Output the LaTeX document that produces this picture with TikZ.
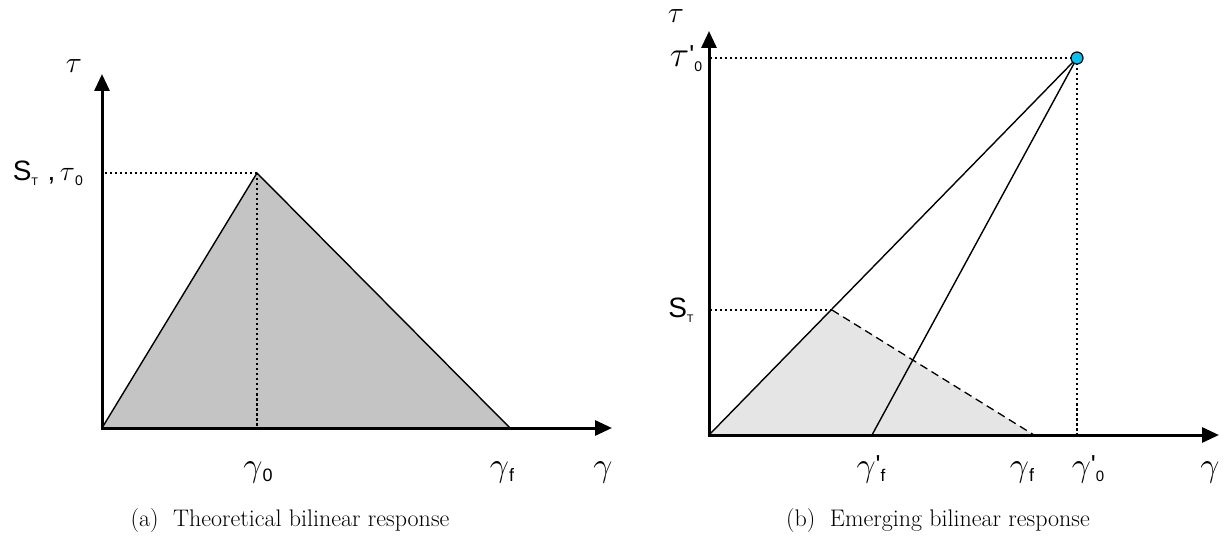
\RequirePackage{fix-cm}
\documentclass[tikz,border=0pt]{standalone}
\usepackage{fontspec}
\newfontfamily\arial{Liberation Sans}
\usetikzlibrary{arrows.meta}
\newcommand{\lsub}[2][18]{\raisebox{-5pt}{\arial\fontsize{#1}{#1}\selectfont #2}}
\newcommand{\lprime}{{\arial\fontsize{26}{26}\selectfont\raisebox{3pt}{'}}}
\begin{document}
\begin{tikzpicture}[x=1pt,y=-1pt,
  axis/.style={line width=3pt,-{Triangle[length=17pt,width=15pt]}},
  edge/.style={line width=1.4pt},
  guide/.style={line width=1.3pt,dash pattern=on 2.5pt off 2.5pt},
  dashline/.style={line width=1.3pt,dash pattern=on 8pt off 5pt},
  lab/.style={inner sep=0pt,anchor=base,font=\fontsize{34}{36}\selectfont},
  taulab/.style={inner sep=0pt,anchor=base,font=\fontsize{30}{32}\selectfont},
  captext/.style={inner sep=0pt,anchor=base,font=\fontsize{24}{28}\selectfont},
  dotstyle/.style={circle,draw=black,line width=1.2pt,fill=dotblue,minimum size=12pt,inner sep=0pt}]
\definecolor{dotblue}{RGB}{0,195,240}
\definecolor{fillA}{RGB}{196,196,196}
\definecolor{fillB}{RGB}{229,229,229}
\useasboundingbox (0,0) rectangle (1232,537);
% ---------- left panel ----------
\coordinate (O1) at (102,428);
\coordinate (P1) at (257,173);
\coordinate (F1) at (510,428);
\coordinate (Y1) at (102,74);
\coordinate (X1) at (612,428);
\coordinate (O1s) at (102,429.5);
\coordinate (O1w) at (100.5,428);
\fill[fillA] (O1) -- (P1) -- (F1) -- cycle;
\draw[edge] (O1) -- (P1) -- (F1);
\draw[guide] (P1) -- (P1|-O1);
\draw[guide] (P1) -- (P1-|O1);
\draw[axis] (O1s) -- (Y1);
\draw[axis] (O1w) -- (X1);
\node[taulab] (tau1) at (74,73) {$\tau$};
\node[inner sep=0pt,anchor=east,font=\fontsize{28}{30}\selectfont] (st1) at (83,173)
  {\arial S\lsub[11]{T}\,\,,\,$\tau$\lsub[14]{0}};
\node[lab] (g01) at (258,476) {$\gamma$\lsub{0}};
\node[lab] (gf1) at (502,476) {$\gamma$\lsub{f}};
\node[lab] (g1) at (603,476) {$\gamma$};
\node[captext] (capA) at (290,526) {(a)\ \ Theoretical bilinear response};
% ---------- right panel ----------
\coordinate (O2) at (709,435);
\coordinate (D) at (1077,58);
\coordinate (S2) at (832,310);
\coordinate (F2) at (1034,435);
\coordinate (G2) at (872,435);
\coordinate (Y2) at (709,31);
\coordinate (X2) at (1219,435);
\coordinate (O2s) at (709,436.5);
\coordinate (O2w) at (707.5,435);
\fill[fillB] (O2) -- (S2) -- (F2) -- cycle;
\draw[dashline] (S2) -- (F2);
\draw[guide] (S2) -- (S2-|O2);
\draw[guide] (D) -- (D-|O2);
\draw[guide] (D) -- (D|-O2);
\draw[edge] (O2) -- (D);
\draw[edge] (G2) -- (D);
\draw[axis] (O2s) -- (Y2);
\draw[axis] (O2w) -- (X2);
\node[dotstyle] (dot) at (D) {};
\node[taulab] (tau2) at (676,23) {$\tau$};
\node[inner sep=0pt,anchor=base,font=\fontsize{36}{38}\selectfont] (tau02) at (686,67) {$\tau$\lprime\lsub[14]{0}};
\node[inner sep=0pt,font=\fontsize{28}{30}\selectfont] (st2) at (681,310) {\arial S\lsub[11]{T}};
\node[lab] (gpf2) at (871,476) {$\gamma$\lprime\lsub[17]{f}};
\node[lab] (gf2) at (1022,476) {$\gamma$\lsub{f}};
\node[lab] (gp02) at (1088,476) {$\gamma$\lprime\lsub[15]{0}};
\node[lab] (g2) at (1210,476) {$\gamma$};
\node[captext] (capB) at (938,526) {(b)\ \ Emerging bilinear response};
\end{tikzpicture}
\end{document}
